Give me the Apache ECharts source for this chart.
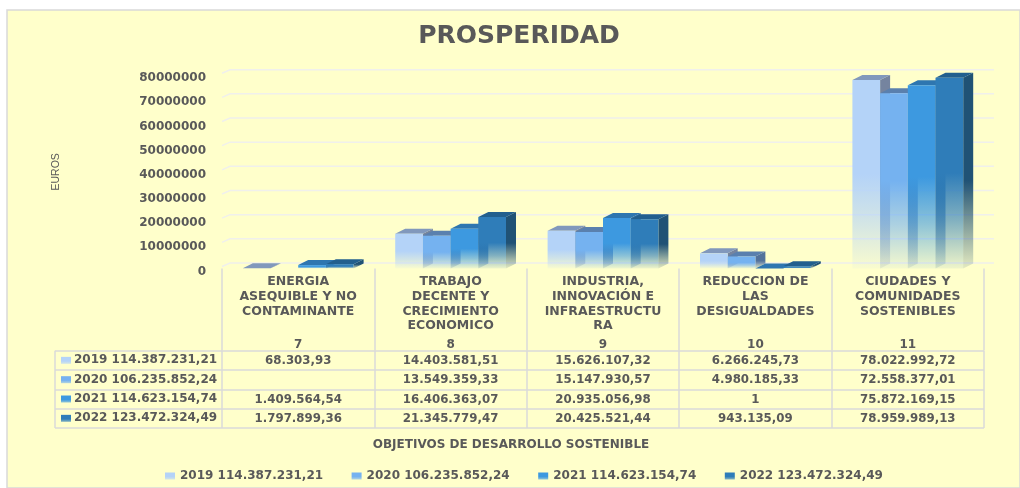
<!DOCTYPE html>
<html>
<head>
<meta charset="utf-8">
<style>html,body{margin:0;padding:0;background:#fff}#c{width:1020px;height:488px}</style>
<script src="https://cdn.jsdelivr.net/npm/echarts@6/dist/echarts.min.js"></script>
</head>
<body>
<div id="c"></div>
<script>
var categories = ['ENERGIA\nASEQUIBLE Y NO\nCONTAMINANTE','TRABAJO\nDECENTE Y\nCRECIMIENTO\nECONOMICO','INDUSTRIA,\nINNOVACIÓN E\nINFRAESTRUCTU\nRA','REDUCCION DE\nLAS\nDESIGUALDADES','CIUDADES Y\nCOMUNIDADES\nSOSTENIBLES'];
var goalNumbers = ['7','8','9','10','11'];
var seriesNames = ['2019 114.387.231,21','2020 106.235.852,24','2021 114.623.154,74','2022 123.472.324,49'];
var values2019 = [68303.93,14403581.51,15626107.32,6266245.73,78022992.72];
var values2020 = [null,13549359.33,15147930.57,4980185.33,72558377.01];
var values2021 = [1409564.54,16406363.07,20935056.98,1,75872169.15];
var values2022 = [1797899.36,21345779.47,20425521.44,943135.09,78959989.13];
var yTicks = [0,10000000,20000000,30000000,40000000,50000000,60000000,70000000,80000000];
var allValues = [values2019,values2020,values2021,values2022];
var frontColors = [[180,211,248],[117,178,240],[61,153,224],[47,125,185]];
var topColors = ['#8198BC','#5A80AE','#2E76B0','#225F8E'];
var sideColors = ['#75849F','#53729B','#2A6A9E','#205275'];

var TEXT = '#595959', FONT = '"DejaVu Sans"', RULE = '#DADADA';
var BAR_W = 27.7, DX = 10, DY = 5;

function rgba(c,a){return 'rgba('+c[0]+','+c[1]+','+c[2]+','+a+')';}
function fade(stops){
  return new echarts.graphic.LinearGradient(0,0,0,1,stops.map(function(s){return {offset:s[0],color:s[1]};}));
}
function fmt(v){
  if(v===null) return '';
  if(Number.isInteger(v)) return String(v);
  var p = v.toFixed(2).split('.');
  return p[0].replace(/\B(?=(\d{3})+$)/g,'.')+','+p[1];
}
function hexRgb(h){return [parseInt(h.substr(1,2),16),parseInt(h.substr(3,2),16),parseInt(h.substr(5,2),16)];}

function barSeries(i){
  var fc = frontColors[i];
  return {
    type:'custom', name:seriesNames[i], xAxisIndex:0, yAxisIndex:0, clip:false, z:5,
    itemStyle:{color:fade([[0,rgba(fc,1)],[0.6,rgba(fc,1)],[1,rgba(fc,0.55)]])},
    encode:{x:0,y:1},
    data:allValues[i].map(function(v,k){return [k,v];}),
    renderItem:function(params,api){
      var v = api.value(1);
      if(isNaN(v)) return null;
      var base = api.coord([api.value(0),0]);
      var top = api.coord([api.value(0),v]);
      var x0 = base[0]+(i-2)*BAR_W, x1 = x0+BAR_W, y0 = base[1], y1 = top[1];
      var sc = hexRgb(sideColors[i]);
      return {type:'group',children:[
        {type:'polygon',shape:{points:[[x1,y0],[x1,y1],[x1+DX,y1-DY],[x1+DX,y0-DY]]},
         style:{fill:fade([[0,rgba(sc,1)],[0.55,rgba(sc,1)],[1,rgba(sc,0.12)]])}},
        {type:'polygon',shape:{points:[[x0,y1],[x1,y1],[x1+DX,y1-DY],[x0+DX,y1-DY]]},
         style:{fill:topColors[i]}},
        {type:'rect',shape:{x:x0,y:y1,width:BAR_W,height:Math.max(y0-y1,0.01)},
         style:{fill:fade([[0,rgba(fc,1)],[0.5,rgba(fc,1)],[0.75,rgba(fc,0.6)],[1,rgba(fc,0.08)]])}}
      ]};
    }
  };
}

var wallSeries = {
  type:'custom', name:'wall', xAxisIndex:0, yAxisIndex:0, clip:false, silent:true, z:1,
  encode:{y:0}, data:yTicks.map(function(t){return [t];}),
  renderItem:function(params,api){
    var cs = params.coordSys, y = api.coord([0,api.value(0)])[1];
    return {type:'polyline',shape:{points:[[cs.x,y-2],[cs.x+8,y-5.5],[cs.x+cs.width+10,y-5.5]]},
      style:{stroke:'#F0F0EC',lineWidth:1.5,fill:null}};
  }
};

var keyRows = [0,1,2,3];
var keySeries = {
  type:'custom', name:'keys', xAxisIndex:1, yAxisIndex:1, clip:false, silent:true, z:4,
  encode:{y:0}, data:keyRows.map(function(r){return [r];}),
  renderItem:function(params,api){
    var r = api.value(0), cs = params.coordSys, y = api.coord([0,r])[1];
    var fc = frontColors[r];
    var kids = [{type:'rect',shape:{x:cs.x-161,y:y-3.5,width:10,height:7},
      style:{fill:fade([[0,rgba(fc,1)],[0.6,rgba(fc,1)],[1,rgba(fc,0.55)]])}}];
    if(r===0) kids.push({type:'line',shape:{x1:cs.x-167,y1:cs.y,x2:cs.x-167,y2:cs.y+cs.height},
      style:{stroke:RULE,lineWidth:1.5}});
    return {type:'group',children:kids};
  }
};

var cellData = [];
allValues.forEach(function(arr,r){arr.forEach(function(v,c){cellData.push([c,r,fmt(v)]);});});
var cellSeries = {
  type:'custom', name:'cells', xAxisIndex:1, yAxisIndex:1, silent:true, z:4,
  encode:{x:0,y:1}, data:cellData,
  renderItem:function(params,api){
    var p = api.coord([api.value(0),api.value(1)]);
    return {type:'text',x:p[0],y:p[1]+0.5,style:{text:cellData[params.dataIndex][2],
      fill:TEXT,font:'bold 11.8px '+FONT,align:'center',verticalAlign:'middle'}};
  }
};

var chart = echarts.init(document.getElementById('c'),null,{renderer:'canvas'});
chart.setOption({
  animation:false,
  backgroundColor:'#fff',
  graphic:[{type:'rect',z:-10,shape:{x:7,y:10,width:1013,height:478},
    style:{fill:'#FFFFCB',stroke:'#D9D9D9',lineWidth:1.5}}],
  title:[
    {text:'PROSPERIDAD',left:514,top:19,textAlign:'center',
     textStyle:{fontFamily:FONT,fontWeight:'bold',fontSize:25,color:TEXT}},
    {text:'OBJETIVOS DE DESARROLLO SOSTENIBLE',left:506,top:434,textAlign:'center',
     textStyle:{fontFamily:FONT,fontWeight:'bold',fontSize:12,color:TEXT}}
  ],
  legend:{data:seriesNames,left:160,top:465,icon:'rect',itemWidth:10,itemHeight:7,itemGap:28.5,
    textStyle:{fontFamily:FONT,fontWeight:'bold',fontSize:12,color:TEXT}},
  grid:[
    {left:222,top:75.2,width:762,height:193.3},
    {left:222,top:350.7,width:762,height:77.3}
  ],
  xAxis:[
    {type:'category',gridIndex:0,data:categories,axisLine:{show:false},
     axisTick:{show:true,length:82,interval:0,alignWithLabel:false,lineStyle:{color:RULE,width:1.5}},
     axisLabel:{interval:0,margin:6,lineHeight:14.7,align:'center',fontFamily:FONT,fontWeight:'bold',fontSize:12.5,color:TEXT},
     splitLine:{show:false}},
    {type:'category',gridIndex:1,position:'top',data:goalNumbers,axisLine:{show:false},axisTick:{show:false},
     axisLabel:{interval:0,margin:0,fontFamily:FONT,fontWeight:'bold',fontSize:12,color:TEXT},
     splitLine:{show:true,interval:0,lineStyle:{color:RULE,width:1.5}}}
  ],
  yAxis:[
    {type:'value',gridIndex:0,min:0,max:80000000,interval:10000000,
     name:'EUROS',nameLocation:'middle',nameGap:160,nameRotate:90,
     nameTextStyle:{fontFamily:'"Liberation Sans"',fontSize:10.5,color:TEXT},
     axisLine:{show:false},axisTick:{show:false},splitLine:{show:false},
     axisLabel:{margin:16,verticalAlign:'top',padding:[-3,0,0,0],formatter:function(v){return String(v);},fontFamily:FONT,fontWeight:'bold',fontSize:12,color:TEXT}},
    {type:'category',gridIndex:1,inverse:true,data:seriesNames,axisLine:{show:false},
     axisTick:{show:true,length:167,interval:0,alignWithLabel:false,lineStyle:{color:RULE,width:1.5}},
     axisLabel:{interval:0,margin:148,align:'left',fontFamily:FONT,fontWeight:'bold',fontSize:12,color:TEXT},
     splitLine:{show:true,interval:0,lineStyle:{color:RULE,width:1.5}}}
  ],
  series:[wallSeries,barSeries(0),barSeries(1),barSeries(2),barSeries(3),keySeries,cellSeries]
});
</script>
</body>
</html>
